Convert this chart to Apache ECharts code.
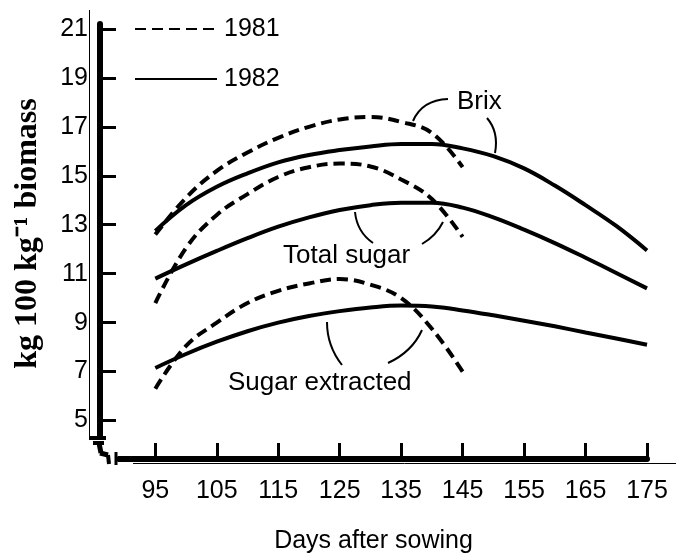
<!DOCTYPE html>
<html>
<head>
<meta charset="utf-8">
<script src="https://cdn.jsdelivr.net/npm/echarts@6/dist/echarts.min.js"></script>
<style>
html, body { margin: 0; padding: 0; background: #fff; }
#chart { width: 676px; height: 553px; }
</style>
</head>
<body>
<div id="chart"></div>
<script>
// days after sowing
var days81 = [95, 100, 105, 110, 115, 120, 125, 130, 135, 140, 145];
var days82 = [95, 100, 105, 110, 115, 120, 125, 130, 135, 140, 145, 150, 155, 160, 165, 170, 175];

// 1981 (dashed)
var brix81 = [12.6, 14.1, 15.2, 15.95, 16.55, 17.0, 17.3, 17.4, 17.2, 16.75, 15.35];
var total81 = [9.8, 12.05, 13.4, 14.25, 14.95, 15.35, 15.5, 15.38, 14.85, 14.05, 12.5];
var extracted81 = [6.3, 8.05, 9.0, 9.8, 10.3, 10.6, 10.78, 10.55, 10.0, 8.75, 7.0];

// 1982 (solid)
var brix82 = [12.75, 13.8, 14.55, 15.1, 15.55, 15.85, 16.05, 16.2, 16.3, 16.3, 16.12, 15.8, 15.3, 14.6, 13.8, 12.95, 11.95];
var total82 = [10.8, 11.38, 11.93, 12.45, 12.92, 13.3, 13.6, 13.8, 13.9, 13.9, 13.7, 13.3, 12.8, 12.25, 11.65, 11.03, 10.4];
var extracted82 = [7.15, 7.72, 8.22, 8.65, 9.0, 9.27, 9.47, 9.62, 9.7, 9.66, 9.5, 9.3, 9.08, 8.85, 8.6, 8.35, 8.1];

var xTicks = [95, 105, 115, 125, 135, 145, 155, 165, 175];
var yTicks = [5, 7, 9, 11, 13, 15, 17, 19, 21];

function pairs(xs, ys)
{
    return xs.map(function (x, i) { return [x, ys[i]]; });
}

function curve(name, xs, ys, dashed)
{
    return {
        name : name,
        type : 'line',
        data : pairs(xs, ys),
        smooth : 0.4,
        symbol : 'none',
        showSymbol : false,
        silent : true,
        itemStyle : { color : '#000' },
        lineStyle :
        {
            color : '#000',
            width : 4,
            type : dashed ? [11, 6] : 'solid'
        },
        z : 3
    };
}

function leader(x1, y1, cx, cy, x2, y2)
{
    return {
        type : 'bezierCurve',
        shape : { x1 : x1, y1 : y1, cpx1 : cx, cpy1 : cy, x2 : x2, y2 : y2 },
        style : { stroke : '#000', lineWidth : 2, fill : null },
        z : 10
    };
}

function seg(x1, y1, x2, y2, w)
{
    return {
        type : 'line',
        shape : { x1 : x1, y1 : y1, x2 : x2, y2 : y2 },
        style : { stroke : '#000', lineWidth : w },
        z : 20
    };
}

function note(text, x, y)
{
    return {
        type : 'text',
        left : x,
        top : y,
        style :
        {
            text : text,
            font : '26px "Liberation Sans", Arial, sans-serif',
            fill : '#000'
        },
        z : 10
    };
}

var font = '"Liberation Sans", Arial, sans-serif';

var myChart = echarts.init(document.getElementById('chart'));
var option =
{
    backgroundColor : '#fff',
    animation : false,
    grid :
    {
        left : 100,
        right : 29,
        top : 24,
        bottom : 94,
        containLabel : false,
        outerBoundsMode : 'none'
    },
    legend :
    {
        data : ['1981', '1982'],
        orient : 'vertical',
        left : 129,
        top : 11,
        itemWidth : 82,
        itemHeight : 12,
        itemGap : 24,
        selectedMode : false,
        itemStyle : { opacity : 0 },
        textStyle :
        {
            fontSize : 25,
            fontFamily : font,
            color : '#000',
            lineHeight : 26,
            padding : [0, 0, 0, 2]
        }
    },
    xAxis :
    {
        type : 'value',
        min : 86,
        max : 175,
        name : 'Days after sowing',
        nameLocation : 'middle',
        nameGap : 70,
        nameTextStyle : { fontSize : 25, fontFamily : font, color : '#000' },
        splitLine : { show : false },
        axisLine : { onZero : false, lineStyle : { color : '#000', width : 6 } },
        axisTick :
        {
            inside : true,
            length : 16,
            customValues : xTicks,
            lineStyle : { color : '#000', width : 3 }
        },
        axisLabel :
        {
            customValues : xTicks,
            margin : 20,
            fontSize : 25,
            fontFamily : font,
            color : '#000'
        }
    },
    yAxis :
    {
        type : 'value',
        min : 3.43,
        max : 21.2,
        name : 'kg 100 kg\u207B\u00B9 biomass',
        nameLocation : 'middle',
        nameGap : 56,
        nameTextStyle :
        {
            fontSize : 32,
            fontWeight : 'bold',
            fontFamily : '"Liberation Serif", "Times New Roman", serif',
            color : '#000',
            padding : [0, 0, 0, 16]
        },
        splitLine : { show : false },
        axisLine : { onZero : false, lineStyle : { color : '#000', width : 6 } },
        axisTick :
        {
            inside : true,
            length : 16,
            customValues : yTicks,
            lineStyle : { color : '#000', width : 3 }
        },
        axisLabel :
        {
            customValues : yTicks,
            margin : 12,
            fontSize : 25,
            fontFamily : font,
            color : '#000'
        }
    },
    series : [
        curve('1981', days81, brix81, true),
        curve('1981', days81, total81, true),
        curve('1981', days81, extracted81, true),
        curve('1982', days82, brix82, false),
        curve('1982', days82, total82, false),
        curve('1982', days82, extracted82, false)
    ],
    graphic : [
        // thin frame lines from the scan
        seg(89.5, 10, 89.5, 440, 1),
        seg(133, 463.5, 676, 463.5, 1),
        // axis break at the corner
        { type : 'rect', shape : { x : 94, y : 440, width : 24, height : 26 }, style : { fill : '#fff' }, z : 15 },
        seg(90, 438, 106, 438, 4),
        seg(93, 443, 104, 443, 4),
        seg(99, 443, 101, 453, 5),
        seg(100, 453, 108, 455, 5),
        seg(108, 455, 109, 464, 4),
        seg(116, 452, 116, 465, 3),
        seg(116, 459, 122, 459, 5),
        note('Brix', 457, 89),
        note('Total sugar', 283, 243),
        note('Sugar extracted', 228, 370),
        leader(413, 121, 422, 100, 448, 99),
        leader(487, 118, 499, 132, 495, 153),
        leader(355, 212, 357, 232, 373, 243),
        leader(422, 244, 436, 236, 443, 222),
        leader(327, 322, 327, 346, 342, 365),
        leader(388, 363, 412, 352, 422, 330)
    ]
};

myChart.setOption(option);
</script>
</body>
</html>
